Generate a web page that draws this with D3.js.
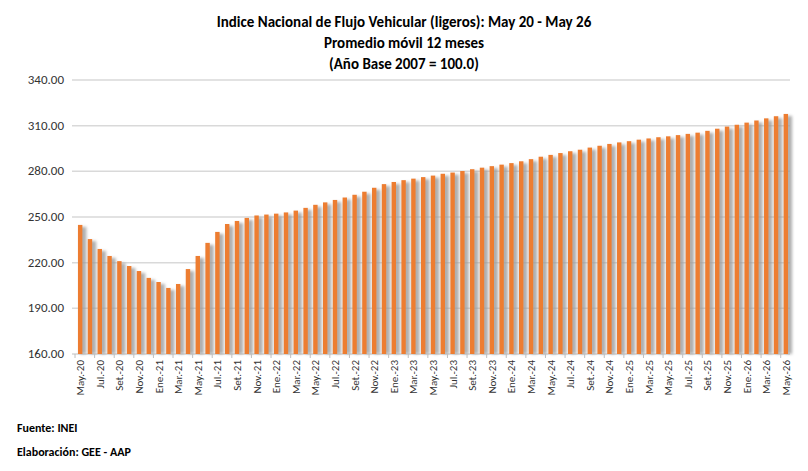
<!DOCTYPE html>
<html><head><meta charset="utf-8">
<script src="https://cdn.jsdelivr.net/npm/d3@7"></script>
<style>body{margin:0;background:#fff}text{font-family:Calibri,"Liberation Sans",Arial,sans-serif}</style>
</head><body><svg id="c" width="808" height="471"></svg>
<script>
const monthNames = ['Ene','Feb','Mar','Abr','May','Jun','Jul','Ago','Set','Oct','Nov','Dic'];
const values = [
  244.8,235.5,229.0,224.4,221.0,217.8,214.5,210.0,207.3,203.4,206.0,215.8,
  224.4,233.0,240.2,245.4,247.4,249.4,251.0,251.6,252.2,253.0,254.2,256.0,
  258.0,259.6,261.2,262.8,264.6,266.6,269.2,271.6,273.0,274.2,275.2,276.2,
  277.2,278.4,279.2,280.2,281.4,282.4,283.4,284.4,285.4,286.6,288.0,289.6,
  290.8,292.0,293.2,294.2,295.6,296.8,298.0,299.0,299.8,300.8,301.6,302.4,
  303.0,303.8,304.6,305.4,306.6,308.0,309.4,310.6,312.0,313.4,314.8,316.2,317.7
];
const categories = values.map((v,i)=>{const m=(4+i)%12, y=20+Math.floor((4+i)/12);return monthNames[m]+'.-'+y;});
categories.forEach((c,i)=>{ if(c.startsWith('Ene')) categories[i]='Ene.-'+c.slice(-2); });
const yTicks = [160,190,220,250,280,310,340];

const svg = d3.select('#c');
const defs = svg.append('defs');
const f = defs.append('filter').attr('id','sh').attr('x','-50%').attr('width','200%');
f.append('feGaussianBlur').attr('stdDeviation',1.6);

const x = d3.scaleBand().domain(categories).range([76,790]).paddingInner(0.55).paddingOuter(0.2);
const y = d3.scaleLinear().domain([160,340]).range([354,80]);

svg.append('g').selectAll('line').data(yTicks.slice(1)).join('line')
  .attr('x1',72).attr('x2',790).attr('y1',d=>y(d)).attr('y2',d=>y(d))
  .attr('stroke','#d9d9d9').attr('stroke-width',1.5);
svg.append('line').attr('x1',72).attr('x2',790).attr('y1',y(160)).attr('y2',y(160)).attr('stroke','#bfbfbf');

svg.append('g').attr('font-size',13).attr('fill','#333').selectAll('text').data(yTicks).join('text')
  .attr('x',64).attr('y',d=>y(d)+4).attr('text-anchor','end').text(d=>d.toFixed(2));

// shadows
svg.append('g').attr('filter','url(#sh)').selectAll('rect').data(values).join('rect')
  .attr('x',(d,i)=>x(categories[i])+2).attr('width',x.bandwidth()+2)
  .attr('y',d=>y(d)+2).attr('height',d=>y(160)-y(d)-2).attr('fill','#9a9a9a').attr('opacity',0.8);
svg.append('g').selectAll('rect').data(values).join('rect')
  .attr('x',(d,i)=>x(categories[i])).attr('width',x.bandwidth())
  .attr('y',d=>y(d)).attr('height',d=>y(160)-y(d)).attr('fill','#ed7d31');

const xl = svg.append('g').attr('font-size',11).attr('fill','#333');
categories.forEach((c,i)=>{
  if(i%2) return;
  const cx = x(c)+x.bandwidth()/2;
  xl.append('text').attr('transform',`translate(${cx+4},360) rotate(-90)`).attr('text-anchor','end').text(c);
});
svg.append('g').selectAll('line').data(categories.filter((c,i)=>i%2===0)).join('line')
  .attr('x1',d=>x(d)-x.step()*0.3).attr('x2',d=>x(d)-x.step()*0.3).attr('y1',354).attr('y2',358).attr('stroke','#bfbfbf');

const t = svg.append('g').attr('font-weight','bold').attr('font-size',15).attr('fill','#000').attr('text-anchor','middle');
['Indice Nacional de Flujo Vehicular (ligeros): May 20 - May 26','Promedio móvil 12 meses','(Año Base 2007 = 100.0)']
  .forEach((s,i)=>t.append('text').attr('x',404).attr('y',27+i*21).text(s));
svg.append('text').attr('x',17).attr('y',432).attr('font-size',12).attr('font-weight','bold').text('Fuente: INEI');
svg.append('text').attr('x',17).attr('y',456).attr('font-size',12).attr('font-weight','bold').text('Elaboración: GEE - AAP');
</script></body></html>
